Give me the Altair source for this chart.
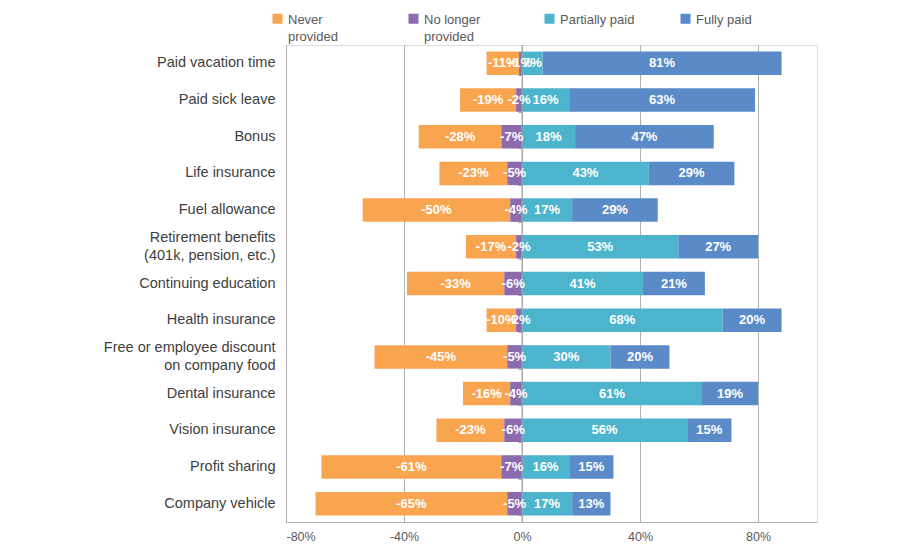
import altair as alt
import pandas as pd

# Benefit categories, top to bottom ("\n" marks a line break in the axis label)
categories = [
    "Paid vacation time",
    "Paid sick leave",
    "Bonus",
    "Life insurance",
    "Fuel allowance",
    "Retirement benefits\n(401k, pension, etc.)",
    "Continuing education",
    "Health insurance",
    "Free or employee discount\non company food",
    "Dental insurance",
    "Vision insurance",
    "Profit sharing",
    "Company vehicle",
]

# Shares of respondents, in percent
never_provided = [11, 19, 28, 23, 50, 17, 33, 10, 45, 16, 23, 61, 65]
no_longer_provided = [1, 2, 7, 5, 4, 2, 6, 2, 5, 4, 6, 7, 5]
partially_paid = [7, 16, 18, 43, 17, 53, 41, 68, 30, 61, 56, 16, 17]
fully_paid = [81, 63, 47, 29, 29, 27, 21, 20, 20, 19, 15, 15, 13]

series = ["Never\nprovided", "No longer\nprovided", "Partially paid", "Fully paid"]
colors = ["#F9A550", "#8B6BAE", "#4CB4CD", "#5A8BC8"]
x_ticks = [-80, -40, 0, 40, 80]

# Diverging stack: "no longer" next to zero, "never" beyond it on the left;
# "partially" from zero and "fully" after it on the right.
rows = []
for i, cat in enumerate(categories):
    nv, nl = never_provided[i], no_longer_provided[i]
    pp, fp = partially_paid[i], fully_paid[i]
    segs = [
        (series[0], -(nv + nl), -nl, -nv),
        (series[1], -nl, 0, -nl),
        (series[2], 0, pp, pp),
        (series[3], pp, pp + fp, fp),
    ]
    for name, start, end, val in segs:
        rows.append({
            "category": cat,
            "series": name,
            "start": start,
            "end": end,
            "mid": (start + end) / 2,
            "label": f"{val}%",
        })
df = pd.DataFrame(rows)

FONT = "Liberation Sans"
GRID = "#b0b0b0"

x_scale = alt.Scale(domain=[-80, 100], nice=False, zero=False)
y_scale = alt.Scale(paddingInner=0.36, paddingOuter=0.18)

# two-line labels: split at the line break; one-line labels get a blank
# second line so every legend entry has the same height
two_line = "indexof(datum.label, '\\n') >= 0"
legend_expr = f"{two_line} ? split(datum.label, '\\n') : [datum.label, ' ']"

bars = alt.Chart(df).mark_bar().encode(
    x=alt.X(
        "start:Q",
        scale=x_scale,
        title=None,
        axis=alt.Axis(
            values=x_ticks,
            labelExpr="datum.value + '%'",
            grid=True,
            gridColor=GRID,
            ticks=False,
            domainColor=GRID,
            labelFontSize=12.5,
            labelColor="#595959",
            labelPadding=8,
        ),
    ),
    x2="end:Q",
    y=alt.Y(
        "category:N",
        sort=categories,
        scale=y_scale,
        title=None,
        axis=alt.Axis(
            labelExpr="split(datum.label, '\\n')",
            labelLineHeight=18,
            labelOffset={"condition": {"test": two_line, "value": -9}, "value": 0},
            ticks=False,
            domainColor=GRID,
            labelFontSize=14.5,
            labelColor="#404040",
            labelPadding=11,
            labelLimit=300,
        ),
    ),
    color=alt.Color(
        "series:N",
        scale=alt.Scale(domain=series, range=colors),
        legend=alt.Legend(
            title=None,
            orient="none",
            legendX=-15,
            legendY=-28,
            direction="horizontal",
            columns=4,
            gridAlign="all",
            columnPadding=44,
            padding=0,
            symbolType="M-1,-2H1V0H-1Z",
            symbolSize=100,
            symbolStrokeWidth=0,
            labelFontSize=13,
            labelColor="#595959",
            labelBaseline="alphabetic",
            labelExpr=legend_expr,
            labelOffset=4,
        ),
    ),
)

zero_line = alt.Chart(pd.DataFrame({"x": [0]})).mark_rule(
    color="#a6a6a6", strokeWidth=1
).encode(x=alt.X("x:Q", scale=x_scale))

labels = alt.Chart(df).mark_text(
    color="white", fontWeight="bold", fontSize=13, font=FONT
).encode(
    x=alt.X("mid:Q", scale=x_scale),
    y=alt.Y(
        "category:N",
        sort=categories,
        scale=y_scale,
        title=None,
        axis=alt.Axis(
            orient="left",
            offset=-236,
            labels=False,
            domain=False,
            grid=False,
            ticks=True,
            tickBand="extent",
            tickSize=4,
            tickColor="#a6a6a6",
        ),
    ),
    text="label:N",
)

chart = (
    alt.layer(bars, zero_line, labels)
    .resolve_axis(y="independent")
    .properties(
        width=531,
        height=477,
        autosize=alt.AutoSizeParams(type="none"),
        padding={"left": 286, "top": 45, "right": 83, "bottom": 28},
    )
    .configure_view(stroke=None)
    .configure(font=FONT, style={"guide-label": {"lineHeight": 17}})
)

chart.save("out.html", embed_options={"renderer": "svg", "actions": False})
